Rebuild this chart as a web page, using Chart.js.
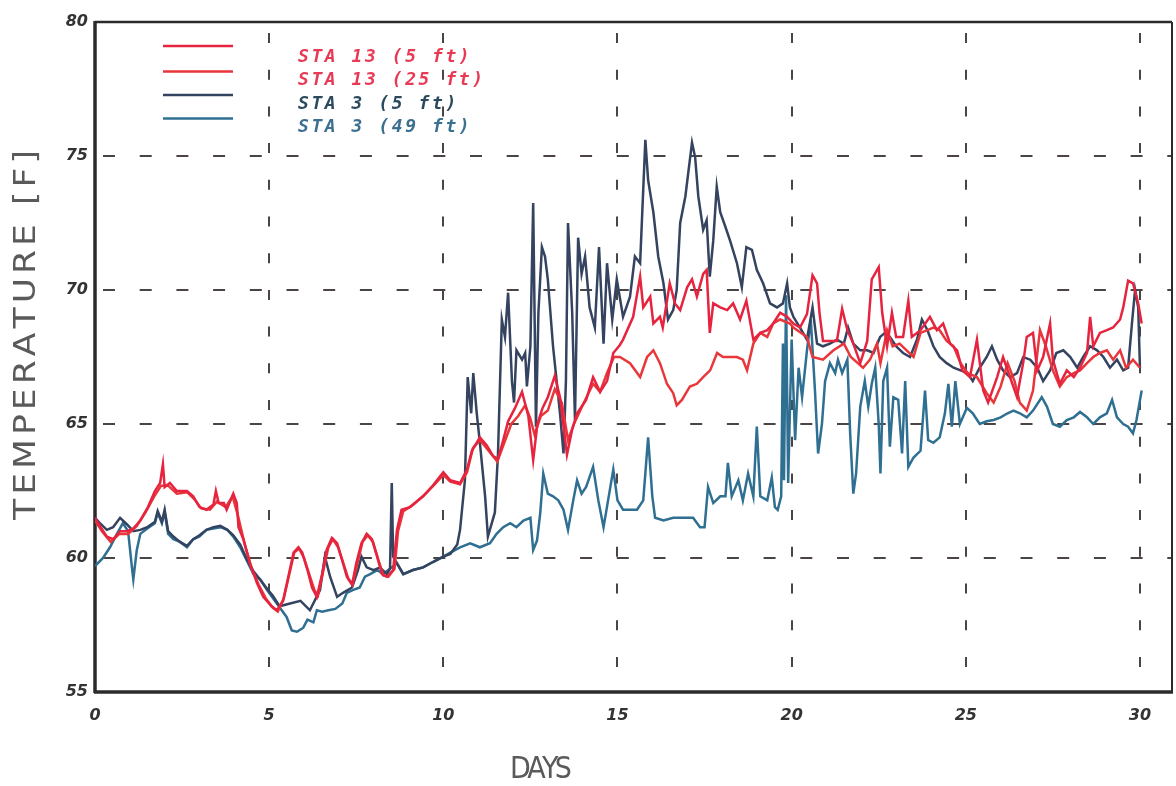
<!DOCTYPE html>
<html><head><meta charset="utf-8">
<script src="https://cdn.jsdelivr.net/npm/chart.js@4/dist/chart.umd.min.js"></script>
<style>html,body{margin:0;padding:0;background:#fff;}#wrap{width:1176px;height:786px;}</style>
</head><body><div id="wrap"><canvas id="c" width="1176" height="786"></canvas></div>
<script>
// ---- tick labels / axis text ----
const xTickValues = [0, 5, 10, 15, 20, 25, 30];
const xTickLabels = ['0', '5', '10', '15', '20', '25', '30'];
const yTickValues = [55, 60, 65, 70, 75, 80];
const yTickLabels = ['55', '60', '65', '70', '75', '80'];
const xAxisTitle = 'DAYS';
const yAxisTitle = 'TEMPERATURE [F]';
const seriesNames = ['STA 13 (5 ft)', 'STA 13 (25 ft)', 'STA 3 (5 ft)', 'STA 3 (49 ft)'];

// ---- STA 13 (5 ft) ----
const sta13_5_days = [0,0.14,0.34,0.52,0.72,0.92,1.1,1.3,1.52,1.72,1.87,1.95,2.0,2.15,2.35,2.64,2.82,3.0,3.2,3.4,3.47,3.55,3.7,3.78,3.97,4.07,4.12,4.26,4.45,4.65,4.83,5.07,5.22,5.4,5.55,5.7,5.84,5.95,6.1,6.23,6.37,6.52,6.65,6.8,6.95,7.1,7.23,7.38,7.5,7.65,7.8,7.95,8.1,8.24,8.38,8.56,8.67,8.8,9.04,9.42,9.7,10.0,10.2,10.48,10.68,10.82,11.05,11.25,11.43,11.57,11.72,11.86,12.06,12.26,12.44,12.58,12.7,12.85,13.0,13.2,13.35,13.55,13.7,13.84,14.1,14.3,14.5,14.7,14.88,15.07,15.16,15.45,15.65,15.74,15.94,16.03,16.22,16.3,16.5,16.65,16.8,17.0,17.14,17.28,17.46,17.56,17.65,17.75,17.95,18.15,18.32,18.52,18.7,18.9,19.1,19.3,19.47,19.67,19.87,20.05,20.24,20.44,20.6,20.73,20.8,20.9,21.1,21.3,21.45,21.6,21.77,21.97,22.17,22.3,22.5,22.6,22.74,22.88,23.0,23.2,23.35,23.45,23.7,23.97,24.17,24.35,24.55,24.75,24.9,25.12,25.32,25.5,25.64,25.9,26.07,26.27,26.47,26.65,26.75,26.93,27.05,27.22,27.42,27.5,27.7,27.9,28.1,28.28,28.48,28.57,28.66,28.85,29.05,29.23,29.43,29.52,29.66,29.8,29.95,30.05];
const sta13_5_temp = [61.5,61.2,60.8,60.7,61.0,61.0,61.1,61.4,61.9,62.5,62.8,63.5,62.65,62.8,62.5,62.5,62.3,61.9,61.8,62.0,62.5,62.05,62.05,61.8,62.4,62.05,61.15,60.7,59.8,59.07,58.55,58.2,58.05,58.4,59.3,60.2,60.4,60.2,59.55,58.9,58.55,59.4,60.3,60.75,60.55,59.9,59.3,59.0,59.8,60.55,60.9,60.7,60.05,59.4,59.3,59.55,61.05,61.8,61.9,62.3,62.7,63.2,62.9,62.8,63.3,64.0,64.5,64.2,63.8,63.7,64.4,65.1,65.6,66.2,65.3,63.65,65.0,65.6,66.0,66.8,66.0,63.85,64.8,65.4,65.9,66.75,66.2,66.6,67.65,67.95,68.15,69.0,70.5,69.35,69.75,68.75,69.0,68.6,70.25,69.5,69.25,70.1,70.4,69.75,70.6,70.75,68.4,69.5,69.35,69.25,69.5,68.9,69.6,68.15,68.4,68.5,68.75,69.15,69.0,68.75,68.6,69.1,70.55,70.25,69.15,68.1,68.1,68.1,69.3,68.5,68.0,67.27,68.1,70.4,70.85,69.15,67.9,69.15,68.25,68.25,69.6,68.25,68.5,69.0,68.5,68.75,68.0,67.75,67.0,66.75,68.15,66.25,65.8,66.75,67.5,66.75,66.0,67.3,68.25,68.4,67.0,67.5,68.75,67.4,66.5,67.0,66.75,67.1,67.65,69.0,67.9,68.4,68.5,68.6,68.9,69.35,70.35,70.25,69.5,68.75];

// ---- STA 13 (25 ft) ----
const sta13_25_days = [0,0.2,0.45,0.7,0.95,1.2,1.45,1.7,1.9,2.1,2.35,2.65,2.85,3.05,3.3,3.5,3.75,3.95,4.1,4.3,4.5,4.7,4.9,5.1,5.25,5.42,5.58,5.72,5.86,6.0,6.15,6.3,6.4,6.55,6.7,6.83,6.98,7.13,7.28,7.4,7.55,7.68,7.83,7.98,8.13,8.28,8.42,8.6,8.7,8.85,9.1,9.45,9.75,10.0,10.2,10.48,10.68,10.85,11.05,11.3,11.55,11.75,11.95,12.15,12.35,12.5,12.62,12.8,13.0,13.2,13.4,13.58,13.75,14.0,14.3,14.5,14.7,14.9,15.07,15.36,15.65,15.85,16.03,16.22,16.42,16.6,16.7,16.85,17.08,17.28,17.46,17.66,17.86,18.03,18.23,18.43,18.6,18.72,18.9,19.1,19.3,19.47,19.67,19.95,20.05,20.44,20.6,20.9,21.2,21.5,21.7,21.9,22.05,22.25,22.45,22.55,22.74,22.9,23.1,23.3,23.5,23.7,23.9,24.07,24.25,24.45,24.65,24.85,25.05,25.32,25.6,25.8,26.0,26.2,26.4,26.55,26.75,26.93,27.13,27.3,27.5,27.7,27.9,28.1,28.28,28.48,28.66,28.85,29.05,29.23,29.43,29.6,29.8,30.0];
const sta13_25_temp = [61.4,61.0,60.6,60.9,60.9,61.2,61.7,62.3,62.7,62.7,62.4,62.45,62.2,61.85,61.8,62.1,61.9,62.3,61.6,60.5,59.6,59.0,58.5,58.15,58.0,58.5,59.4,60.2,60.35,60.0,59.4,58.8,58.6,59.5,60.4,60.7,60.4,59.8,59.2,59.05,59.9,60.6,60.85,60.6,59.95,59.35,59.3,59.6,61.0,61.75,61.95,62.35,62.75,63.1,62.85,62.75,63.2,64.1,64.4,64.0,63.6,64.3,65.0,65.3,65.7,65.2,64.6,65.3,65.5,66.3,65.8,64.4,65.0,65.7,66.5,66.2,66.9,67.5,67.5,67.27,66.75,67.5,67.75,67.27,66.5,66.15,65.7,65.9,66.4,66.5,66.75,67.0,67.65,67.5,67.5,67.5,67.4,67.0,68.0,68.4,68.25,68.75,68.9,68.75,68.6,68.25,67.5,67.4,67.75,68.0,67.5,67.27,67.1,67.4,68.0,67.27,68.5,67.9,68.0,67.75,67.5,68.4,68.5,68.6,68.5,68.1,67.9,67.27,66.9,66.75,66.15,65.8,66.4,67.27,66.6,65.8,65.5,66.25,68.5,67.9,67.0,66.4,66.75,66.9,67.0,67.27,67.5,67.65,67.75,67.4,67.75,67.1,67.4,67.1];

// ---- STA 3 (5 ft) ----
const sta3_5_days = [0,0.14,0.34,0.52,0.72,0.92,1.1,1.3,1.5,1.72,1.8,1.92,2.0,2.1,2.25,2.44,2.64,2.82,3.0,3.2,3.4,3.6,3.8,3.97,4.17,4.36,4.55,4.74,4.94,5.1,5.3,5.6,5.9,6.17,6.46,6.6,6.75,6.95,7.12,7.38,7.55,7.65,7.8,8.0,8.18,8.38,8.47,8.52,8.56,8.67,8.85,9.13,9.42,9.7,10.0,10.2,10.4,10.48,10.62,10.7,10.8,10.86,10.96,11.05,11.2,11.28,11.48,11.57,11.68,11.77,11.86,11.97,12.03,12.1,12.26,12.35,12.4,12.5,12.58,12.66,12.73,12.83,12.92,13.0,13.15,13.35,13.45,13.52,13.58,13.7,13.78,13.87,13.97,14.07,14.2,14.35,14.47,14.6,14.7,14.85,14.98,15.16,15.36,15.5,15.65,15.8,15.88,16.03,16.17,16.32,16.45,16.6,16.7,16.8,16.95,17.03,17.14,17.23,17.32,17.46,17.56,17.65,17.75,17.85,17.95,18.1,18.23,18.43,18.57,18.7,18.86,19.0,19.18,19.38,19.58,19.75,19.87,19.95,20.05,20.24,20.44,20.6,20.73,20.9,21.1,21.3,21.5,21.62,21.77,21.97,22.17,22.35,22.54,22.68,22.82,23.0,23.2,23.4,23.6,23.74,23.9,24.07,24.25,24.45,24.65,24.85,25.05,25.2,25.4,25.6,25.75,25.9,26.07,26.27,26.47,26.65,26.85,27.05,27.22,27.42,27.6,27.8,28.0,28.2,28.37,28.57,28.77,28.95,29.14,29.34,29.52,29.66,29.77,29.86,29.95,30.0];
const sta3_5_temp = [61.5,61.3,61.05,61.15,61.5,61.25,61.0,61.05,61.15,61.35,61.75,61.35,61.8,61.0,60.8,60.6,60.45,60.7,60.85,61.05,61.15,61.2,61.05,60.85,60.5,59.95,59.5,59.2,58.85,58.6,58.2,58.3,58.4,58.05,58.8,60.05,59.3,58.55,58.7,58.9,59.55,60.05,59.65,59.55,59.65,59.4,59.6,62.8,60.05,59.8,59.4,59.55,59.65,59.85,60.05,60.15,60.5,61.05,62.9,66.75,65.4,66.9,65.4,64.3,62.3,60.8,61.7,63.9,68.9,68.25,69.9,66.6,65.8,67.75,67.4,67.65,66.4,67.9,73.25,64.9,69.15,71.6,71.25,70.4,67.9,65.4,63.9,66.6,72.5,69.15,65.15,71.95,70.6,71.25,69.35,68.6,71.6,68.0,71.0,68.9,70.4,69.0,69.75,71.25,71.0,75.6,74.1,72.9,71.25,70.25,68.9,69.25,70.0,72.5,73.5,74.35,75.5,74.95,73.5,72.25,72.6,70.5,71.85,73.85,72.9,72.35,71.85,71.0,70.1,71.6,71.5,70.75,70.25,69.5,69.35,69.5,70.25,69.35,69.0,68.6,68.15,69.35,68.0,67.9,68.0,68.15,68.0,68.6,68.0,67.75,67.75,67.65,68.25,68.4,68.25,67.9,67.65,67.5,68.15,68.9,68.5,67.9,67.5,67.27,67.1,67.0,66.9,66.6,67.1,67.5,67.9,67.4,67.0,66.75,66.9,67.5,67.4,67.1,66.6,67.0,67.65,67.75,67.5,67.1,67.5,67.9,67.75,67.5,67.1,67.4,67.0,67.1,68.75,70.0,69.35,67.1];

// ---- STA 3 (49 ft) ----
const sta3_49_days = [0,0.23,0.43,0.63,0.8,0.95,1.06,1.1,1.2,1.3,1.5,1.72,1.8,1.92,2.0,2.1,2.25,2.44,2.64,2.82,3.0,3.2,3.4,3.6,3.8,3.97,4.17,4.36,4.55,4.74,4.94,5.22,5.5,5.65,5.8,5.98,6.1,6.27,6.37,6.52,6.7,6.9,7.1,7.23,7.4,7.6,7.75,7.9,8.1,8.27,8.42,8.67,8.85,9.13,9.42,9.7,10.0,10.2,10.48,10.77,11.05,11.34,11.53,11.72,11.92,12.1,12.3,12.5,12.58,12.69,12.78,12.87,13.0,13.15,13.3,13.45,13.58,13.73,13.84,13.97,14.1,14.3,14.45,14.6,14.73,14.88,15.0,15.16,15.36,15.56,15.74,15.88,16.0,16.08,16.32,16.6,16.88,17.17,17.37,17.5,17.6,17.75,17.95,18.1,18.17,18.28,18.47,18.6,18.75,18.9,19.0,19.1,19.3,19.43,19.52,19.6,19.7,19.75,19.78,19.84,19.9,20.0,20.1,20.2,20.3,20.44,20.55,20.67,20.76,20.87,20.96,21.1,21.25,21.33,21.45,21.6,21.68,21.77,21.85,21.97,22.1,22.2,22.3,22.4,22.5,22.55,22.63,22.74,22.82,22.92,23.06,23.17,23.26,23.35,23.5,23.7,23.83,23.92,24.07,24.25,24.4,24.5,24.6,24.7,24.83,25.03,25.2,25.4,25.6,25.8,26.0,26.2,26.37,26.55,26.75,26.93,27.18,27.33,27.5,27.7,27.9,28.1,28.28,28.48,28.66,28.85,29.05,29.2,29.34,29.52,29.66,29.8,29.9,30.05];
const sta3_49_temp = [59.7,60.0,60.4,60.9,61.3,61.0,59.65,59.2,60.3,60.9,61.1,61.3,61.7,61.3,61.7,60.9,60.7,60.6,60.4,60.7,60.8,61.05,61.1,61.15,61.05,60.8,60.4,59.9,59.4,59.2,58.8,58.3,57.8,57.3,57.25,57.4,57.7,57.6,58.05,58.0,58.05,58.1,58.3,58.7,58.8,58.9,59.3,59.4,59.55,59.4,59.55,59.8,59.4,59.55,59.65,59.85,60.05,60.2,60.4,60.55,60.4,60.55,60.9,61.15,61.3,61.15,61.4,61.5,60.3,60.65,61.65,63.15,62.4,62.3,62.15,61.8,61.05,62.15,62.9,62.4,62.65,63.4,62.15,61.15,62.15,63.3,62.15,61.8,61.8,61.8,62.15,64.5,62.3,61.5,61.4,61.5,61.5,61.5,61.15,61.15,62.65,62.05,62.3,62.3,63.55,62.3,62.9,62.15,63.15,62.3,64.9,62.3,62.15,63.0,61.9,61.8,62.3,68.0,62.9,69.8,62.8,68.15,64.4,67.1,66.0,67.75,68.9,66.25,63.9,65.0,66.6,67.27,66.9,67.4,66.9,67.4,64.65,62.4,63.15,65.65,66.6,65.65,66.5,67.1,65.0,63.15,66.6,67.1,64.15,66.0,65.9,63.9,66.6,63.4,63.75,64.0,66.25,64.4,64.3,64.5,65.4,66.5,64.9,66.6,65.0,65.6,65.4,65.0,65.1,65.15,65.25,65.4,65.5,65.4,65.25,65.5,66.0,65.65,65.0,64.9,65.15,65.25,65.45,65.25,65.0,65.25,65.4,65.9,65.25,65.0,64.9,64.65,65.15,66.25];

function pts(days, temps) { return days.map((d, i) => ({ x: d, y: temps[i] })); }

const seriesColors = ['#e6243f', '#e8363a', '#34435f', '#2f6f92'];
const legendTextColors = ['#e83a55', '#e83a55', '#2c4a5e', '#3b7090'];

function spacedText(ctx, text, x, y, targetWidth) {
  const ws = [...text].map(ch => ctx.measureText(ch).width);
  const sum = ws.reduce((a, b) => a + b, 0);
  const gap = text.length > 1 ? (targetWidth - sum) / (text.length - 1) : 0;
  let cx = x;
  [...text].forEach((ch, i) => { ctx.fillText(ch, cx, y); cx += ws[i] + gap; });
}

const framePlugin = {
  id: 'frame',
  beforeDatasetsDraw(chart) {
    const { ctx, chartArea: a } = chart;
    ctx.save();
    ctx.strokeStyle = '#2b2b2b';
    ctx.lineWidth = 2.5;
    ctx.beginPath(); ctx.moveTo(a.left, a.top); ctx.lineTo(a.right, a.top); ctx.stroke();
    ctx.lineWidth = 2;
    ctx.beginPath(); ctx.moveTo(a.right, a.top); ctx.lineTo(a.right, a.bottom); ctx.stroke();
    ctx.lineWidth = 3.5;
    ctx.beginPath(); ctx.moveTo(a.left, a.top - 1); ctx.lineTo(a.left, a.bottom + 1); ctx.stroke();
    ctx.beginPath(); ctx.moveTo(a.left - 1, a.bottom); ctx.lineTo(a.right + 1, a.bottom); ctx.stroke();
    ctx.restore();
  },
  afterDraw(chart) {
    const { ctx } = chart;
    ctx.save();
    // legend
    const lineYs = [46, 71.5, 95, 118.5];
    const textYs = [61.5, 84.5, 108.5, 131.5];
    ctx.font = 'bold italic 18px "DejaVu Sans Mono", monospace';
    ctx.textBaseline = 'alphabetic';
    ctx.textAlign = 'left';
    seriesNames.forEach((name, i) => {
      ctx.strokeStyle = seriesColors[i];
      ctx.lineWidth = 2.5;
      ctx.beginPath(); ctx.moveTo(163, lineYs[i]); ctx.lineTo(233, lineYs[i]); ctx.stroke();
      ctx.fillStyle = legendTextColors[i];
      [...name].forEach((ch, k) => ctx.fillText(ch, 298 + k * 13.4, textYs[i]));
    });
    // y axis title (slightly stretched along the text direction)
    ctx.fillStyle = '#5a5a5a';
    ctx.font = '30px "DejaVu Sans ExtraLight", "DejaVu Sans", sans-serif';
    ctx.textBaseline = 'middle';
    ctx.translate(27, 335);
    ctx.rotate(-Math.PI / 2);
    ctx.scale(1.15, 1);
    spacedText(ctx, yAxisTitle, -185 / 1.15, 0, 370 / 1.15);
    ctx.setTransform(1, 0, 0, 1, 0, 0);
    // x axis title
    ctx.font = '30px "DejaVu Sans Condensed", "Liberation Sans Narrow", "DejaVu Sans", sans-serif';
    spacedText(ctx, xAxisTitle, 510, 770, 62);
    ctx.restore();
  }
};

const tickFont = { family: '"DejaVu Sans", sans-serif', size: 16, style: 'italic', weight: 'bold' };

new Chart(document.getElementById('c').getContext('2d'), {
  type: 'line',
  data: {
    datasets: [
      { label: seriesNames[0], data: pts(sta13_5_days, sta13_5_temp), borderColor: seriesColors[0] },
      { label: seriesNames[1], data: pts(sta13_25_days, sta13_25_temp), borderColor: seriesColors[1] },
      { label: seriesNames[2], data: pts(sta3_5_days, sta3_5_temp), borderColor: seriesColors[2] },
      { label: seriesNames[3], data: pts(sta3_49_days, sta3_49_temp), borderColor: seriesColors[3] }
    ]
  },
  options: {
    responsive: false,
    animation: false,
    devicePixelRatio: 1,
    layout: { padding: { left: 0, right: 4, top: 22, bottom: 0 } },
    elements: { line: { borderWidth: 2.5, tension: 0, fill: false }, point: { radius: 0 } },
    plugins: { legend: { display: false }, tooltip: { enabled: false }, title: { display: false } },
    scales: {
      x: {
        type: 'linear', min: 0, max: 30.92,
        afterFit(s) { s.height = 94; },
        ticks: {
          stepSize: 5, includeBounds: false, autoSkip: false, maxRotation: 0, padding: 14,
          color: '#333', font: tickFont,
          callback: (v) => { const i = xTickValues.indexOf(v); return i >= 0 ? xTickLabels[i] : ''; }
        },
        grid: {
          drawTicks: false, lineWidth: 2,
          color: (c) => (c.tick && c.tick.value > 0 && c.tick.value <= 30) ? '#4a4444' : 'rgba(0,0,0,0)'
        },
        border: { display: false, dash: [10, 26.7], dashOffset: 25.7 }
      },
      y: {
        type: 'linear', min: 55, max: 80,
        afterFit(s) { s.width = 95; },
        ticks: {
          stepSize: 5, padding: 7, color: '#333', font: tickFont,
          callback: (v) => { const i = yTickValues.indexOf(v); return i >= 0 ? yTickLabels[i] : ''; }
        },
        grid: {
          drawTicks: false, lineWidth: 2,
          color: (c) => (c.tick && c.tick.value > 55 && c.tick.value < 80) ? '#4a4444' : 'rgba(0,0,0,0)'
        },
        border: { display: false, dash: [12, 24.7], dashOffset: 28.7 }
      }
    }
  },
  plugins: [framePlugin]
});
</script>
</body></html>
